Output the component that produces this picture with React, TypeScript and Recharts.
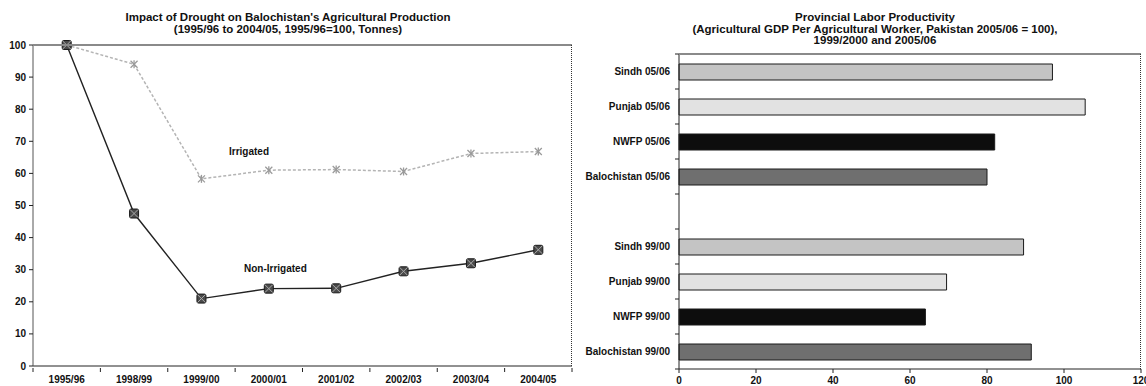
import React from 'react';
import { LineChart, Line, BarChart, Bar, Cell, XAxis, YAxis } from 'recharts';

const years = ['1995/96', '1998/99', '1999/00', '2000/01', '2001/02', '2002/03', '2003/04', '2004/05'];
const nonIrrigated = [100, 47.5, 21, 24.1, 24.2, 29.5, 32, 36.2];
const irrigated = [100, 94, 58.3, 61, 61.2, 60.6, 66.2, 66.8];
const yTicks = [0, 10, 20, 30, 40, 50, 60, 70, 80, 90, 100];

const provinces = [
  'Sindh 05/06', 'Punjab 05/06', 'NWFP 05/06', 'Balochistan 05/06', ' ',
  'Sindh 99/00', 'Punjab 99/00', 'NWFP 99/00', 'Balochistan 99/00',
];
const productivity = [97, 105.5, 82, 80, null, 89.5, 69.5, 64, 91.5];
const xTicks = [0, 20, 40, 60, 80, 100, 120];

const lineData = years.map((y, i) => ({ year: y, nonIrrigated: nonIrrigated[i], irrigated: irrigated[i] }));
const barData = provinces.map((p, i) => ({ name: p, value: productivity[i] }));

const FONT = '"Liberation Sans", Arial, sans-serif';
const tickStyle = { fontFamily: FONT, fontSize: 10, fontWeight: 700, fill: '#111' };

function fillFor(name: string) {
  if (name.startsWith('Sindh')) return '#c4c4c4';
  if (name.startsWith('Punjab')) return '#e2e2e2';
  if (name.startsWith('NWFP')) return '#0d0d0d';
  return '#6f6f6f';
}

// category ticks drawn Excel-style: label at the centre, tick mark on the band edge
const YEAR_BAND = 539 / 8;
function YearTick(props: any) {
  const { x, y, payload, index } = props;
  return (
    <g>
      <line x1={x - YEAR_BAND / 2} x2={x - YEAR_BAND / 2} y1={y} y2={y + 4} stroke="#222" />
      {index === years.length - 1 && (
        <line x1={x + YEAR_BAND / 2} x2={x + YEAR_BAND / 2} y1={y} y2={y + 4} stroke="#222" />
      )}
      <text x={x} y={y + 15} textAnchor="middle" style={tickStyle}>{payload.value}</text>
    </g>
  );
}

const PROV_BAND = 315 / 9;
function ProvTick(props: any) {
  const { x, y, payload, index } = props;
  return (
    <g>
      <line x1={x + 4} x2={x + 8} y1={y - PROV_BAND / 2} y2={y - PROV_BAND / 2} stroke="#222" />
      {index === provinces.length - 1 && (
        <line x1={x + 4} x2={x + 8} y1={y + PROV_BAND / 2} y2={y + PROV_BAND / 2} stroke="#222" />
      )}
      <text x={x - 1} y={y + 3.5} textAnchor="end" style={tickStyle}>{payload.value}</text>
    </g>
  );
}

function BoxDot(props: any) {
  const { cx, cy } = props;
  if (cx == null || cy == null) return null;
  return (
    <g>
      <rect x={cx - 4.5} y={cy - 4.5} width={9} height={9} rx={1.5} fill="#4a4a4a" stroke="#1a1a1a" strokeWidth={1} />
      <line x1={cx - 4} y1={cy - 4} x2={cx + 4} y2={cy + 4} stroke="#aaa" strokeWidth={1} />
      <line x1={cx - 4} y1={cy + 4} x2={cx + 4} y2={cy - 4} stroke="#aaa" strokeWidth={1} />
    </g>
  );
}

function CrossDot(props: any) {
  const { cx, cy } = props;
  if (cx == null || cy == null) return null;
  return (
    <g stroke="#9a9a9a" strokeWidth={1.3}>
      <line x1={cx - 3.5} y1={cy - 3.5} x2={cx + 3.5} y2={cy + 3.5} />
      <line x1={cx - 3.5} y1={cy + 3.5} x2={cx + 3.5} y2={cy - 3.5} />
      <line x1={cx} y1={cy - 4} x2={cx} y2={cy + 4} />
    </g>
  );
}

const titleStyle: React.CSSProperties = {
  position: 'absolute', fontFamily: FONT, fontWeight: 700, fontSize: 11.5,
  color: '#111', textAlign: 'center', lineHeight: '11.7px', whiteSpace: 'nowrap',
};
const noteStyle: React.CSSProperties = {
  position: 'absolute', fontFamily: FONT, fontWeight: 700, fontSize: 10, color: '#111', whiteSpace: 'nowrap',
};

export default function App() {
  return (
    <div style={{ position: 'absolute', left: 0, top: 0, width: 1146, height: 386, background: '#fff', overflow: 'hidden' }}>
      <div style={{ ...titleStyle, left: 88, width: 400, top: 12 }}>
        Impact of Drought on Balochistan's Agricultural Production<br />
        (1995/96 to 2004/05, 1995/96=100, Tonnes)
      </div>
      <div style={{ ...titleStyle, left: 675, width: 400, top: 12 }}>
        Provincial Labor Productivity<br />
        (Agricultural GDP Per Agricultural Worker, Pakistan 2005/06 = 100),<br />
        1999/2000 and 2005/06
      </div>

      <div style={{ position: 'absolute', left: 0, top: 0 }}>
        <LineChart width={580} height={386} data={lineData} margin={{ top: 45, right: 8, bottom: 0, left: 0 }}>
          <XAxis dataKey="year" height={20} tickSize={0} tickLine={false} tick={<YearTick />}
            axisLine={{ stroke: '#222' }} interval={0}
            padding={{ left: YEAR_BAND / 2, right: YEAR_BAND / 2 }} />
          <YAxis width={33} domain={[0, 100]} ticks={yTicks} tickSize={4} tickMargin={3}
            axisLine={{ stroke: '#555' }} tickLine={{ stroke: '#222' }} tick={tickStyle} interval={0} />
          <Line dataKey="irrigated" stroke="#b4b4b4" strokeWidth={1.5} strokeDasharray="3 2"
            dot={<CrossDot />} isAnimationActive={false} />
          <Line dataKey="nonIrrigated" stroke="#222" strokeWidth={1.4}
            dot={<BoxDot />} isAnimationActive={false} />
        </LineChart>
      </div>
      <div style={{ position: 'absolute', left: 33, top: 44, width: 539, height: 0, borderTop: '2px solid #8a8a8a' }} />
      <div style={{ position: 'absolute', left: 571, top: 45, width: 0, height: 321, borderLeft: '1px dotted #333' }} />
      <div style={{ ...noteStyle, left: 229, top: 146 }}>Irrigated</div>
      <div style={{ ...noteStyle, left: 244, top: 263 }}>Non-Irrigated</div>

      <div style={{ position: 'absolute', left: 580, top: 0 }}>
        <BarChart width={566} height={386} data={barData} layout="vertical"
          margin={{ top: 54, right: 5, bottom: 0, left: 0 }} barCategoryGap={0}>
          <XAxis type="number" domain={[0, 120]} ticks={xTicks} height={17} tickSize={4} tickMargin={4}
            axisLine={{ stroke: '#222' }} tickLine={{ stroke: '#222' }} tick={tickStyle} interval={0} />
          <YAxis type="category" dataKey="name" width={99} tickSize={0} tickMargin={8} tickLine={false}
            axisLine={{ stroke: '#222' }} tick={<ProvTick />} interval={0} />
          <Bar dataKey="value" barSize={16} stroke="#1a1a1a" strokeWidth={1} isAnimationActive={false}>
            {barData.map((d) => <Cell key={d.name} fill={fillFor(d.name)} />)}
          </Bar>
        </BarChart>
      </div>
      <div style={{ position: 'absolute', left: 679, top: 53, width: 462, height: 0, borderTop: '2px solid #8a8a8a' }} />
      <div style={{ position: 'absolute', left: 1140, top: 54, width: 0, height: 315, borderLeft: '1px dotted #333' }} />
    </div>
  );
}
